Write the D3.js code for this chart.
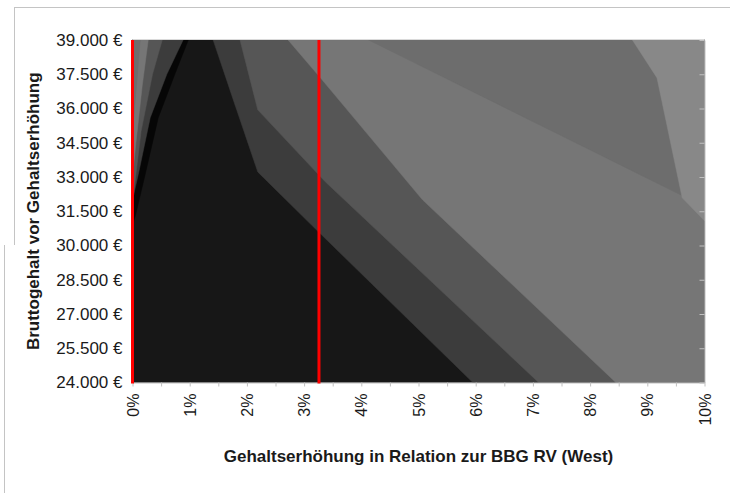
<!DOCTYPE html>
<html>
<head>
<meta charset="utf-8">
<script src="https://cdn.jsdelivr.net/npm/d3@7"></script>
<style>
  body { margin: 0; background: #fff; }
  text { font-family: "Liberation Sans", Arial, sans-serif; fill: #1a1a1a; }
</style>
</head>
<body>
<div id="chart"></div>
<script>
// axis values
const raiseTicks = [0, 1, 2, 3, 4, 5, 6, 7, 8, 9, 10];          // % of BBG RV (West)
const salaryTicks = [24000, 25500, 27000, 28500, 30000, 31500, 33000, 34500, 36000, 37500, 39000];
const markerLines = [0, 3.26];                                   // red reference lines, %

// contour band boundaries, points as [raise %, salary €]
const b1 = [[1.41, 39000], [1.8, 36100], [2.19, 33220], [3.25, 30600], [5.95, 24000]];
const b2 = [[1.88, 39000], [2.19, 35940], [3.37, 32790], [7.1, 24000]];
const b3 = [[2.72, 39000], [3.3, 37300], [5.07, 32000], [8.45, 24000]];
const b4 = [[4.13, 39000], [4.94, 37990], [9.3, 32570], [10, 31700]];
const b5 = [[8.74, 39000], [9.17, 37340], [9.61, 32090], [10, 31080]];
// the thin bands near 0 %
const peakLeft = [[0.975, 39000], [0.74, 37500], [0.45, 35600], [0.22, 33100], [0.05, 31300], [0, 30900]];
const stripLeft = [[0.885, 39000], [0.6, 37500], [0.31, 35600], [0.1, 33100], [0, 32000]];
const l2 = [[0.52, 39000], [0.35, 37500], [0.15, 35000], [0.03, 32500], [0, 31700]];
const l3 = [[0.275, 39000], [0.17, 37000], [0.06, 34500], [0, 33000]];
const l4 = [[0.135, 39000], [0.07, 37000], [0, 35000]];

const shade = {
  S: "#060606", K: "#171717", G1: "#3c3c3c", G2: "#565656",
  G3: "#767676", G4: "#6d6d6d", G5: "#888888"
};

const width = 730, height = 493;
const margin = { top: 40, right: 25.5, bottom: 110.5, left: 132.5 };

const svg = d3.select("#chart").append("svg")
  .attr("width", width)
  .attr("height", height);

// outer frame of the picture
svg.append("path")
  .attr("d", "M14,7.5H730M14.5,7V245M4.5,245V493")
  .attr("fill", "none")
  .attr("stroke", "#c4c4c4");

const x = d3.scaleLinear().domain([0, 10]).range([margin.left, width - margin.right]);
const y = d3.scaleLinear().domain([24000, 39000]).range([height - margin.bottom, margin.top]);

const [x0, x1] = x.domain();
const [y0, y1] = y.domain();

const line = d3.line().x(d => x(d[0])).y(d => y(d[1]));

// bands, painted from lowest to highest (right side), then the corner near 0 %
const bands = [
  { pts: [[x0, y1], [x1, y1], [x1, y0], [x0, y0]], c: shade.K },
  { pts: b1.concat([[x1, y0], [x1, y1]]), c: shade.G1 },
  { pts: b2.concat([[x1, y0], [x1, y1]]), c: shade.G2 },
  { pts: b3.concat([[x1, y0], [x1, y1]]), c: shade.G3 },
  { pts: b4.concat([[x1, y1]]), c: shade.G4 },
  { pts: b5.concat([[x1, y1]]), c: shade.G5 },
  { pts: peakLeft.concat([[x0, y1]]), c: shade.S },
  { pts: stripLeft.concat([[x0, y1]]), c: shade.G1 },
  { pts: l2.concat([[x0, y1]]), c: shade.G2 },
  { pts: l3.concat([[x0, y1]]), c: shade.G3 },
  { pts: l4.concat([[x0, y1]]), c: shade.G4 }
];

const plot = svg.append("g");

plot.selectAll("path.band")
  .data(bands)
  .join("path")
  .attr("class", "band")
  .attr("d", d => line(d.pts) + "Z")
  .attr("fill", d => d.c)
  .attr("stroke", d => d.c)
  .attr("stroke-width", 0.5);

// top edge of the plot
svg.append("line")
  .attr("x1", x(x0)).attr("x2", x(x1))
  .attr("y1", y(y1) - 0.5).attr("y2", y(y1) - 0.5)
  .attr("stroke", "#dadada");

// x axis
const xAxis = svg.append("g")
  .attr("transform", `translate(0,${y(y0)})`)
  .call(d3.axisBottom(x)
    .tickValues(d3.range(0, 10.5, 0.5))
    .tickSize(4)
    .tickSizeOuter(0)
    .tickFormat(d => raiseTicks.includes(d) ? d + "%" : ""));
xAxis.select(".domain").attr("stroke", "#c0c0c0");
xAxis.selectAll(".tick line").attr("stroke", "#c0c0c0");
xAxis.selectAll(".tick text")
  .attr("transform", "rotate(-90)")
  .attr("x", -11)
  .attr("y", 0)
  .attr("dy", "0.35em")
  .style("text-anchor", "end")
  .style("font-size", "16px")
  .attr("fill", "#1a1a1a");

// y axis labels on the left
const de = d3.formatLocale({ decimal: ",", thousands: ".", grouping: [3], currency: ["", " €"] });
const yAxis = svg.append("g")
  .attr("transform", `translate(${x(x0)},0)`)
  .call(d3.axisLeft(y)
    .tickValues(salaryTicks)
    .tickSize(0)
    .tickPadding(10)
    .tickFormat(de.format("$,")));
yAxis.select(".domain").remove();
yAxis.selectAll(".tick text")
  .style("font-size", "17px")
  .attr("fill", "#1a1a1a");

// right edge with inward ticks
const yRight = svg.append("g")
  .attr("transform", `translate(${x(x1)},0)`)
  .call(d3.axisLeft(y)
    .tickValues(salaryTicks)
    .tickSize(5)
    .tickSizeOuter(0)
    .tickFormat(""));
yRight.select(".domain").attr("stroke", "#c0c0c0");
yRight.selectAll(".tick line").attr("stroke", "#c0c0c0");

// red marker lines
svg.selectAll("line.marker")
  .data(markerLines)
  .join("line")
  .attr("class", "marker")
  .attr("x1", d => x(d)).attr("x2", d => x(d))
  .attr("y1", y(y1)).attr("y2", y(y0) + 1)
  .attr("stroke", "#ff0000")
  .attr("stroke-width", 3);

// axis titles
svg.append("text")
  .attr("transform", `translate(33,${(y(y0) + y(y1)) / 2}) rotate(-90)`)
  .attr("dy", "0.35em")
  .attr("text-anchor", "middle")
  .style("font-size", "17px")
  .style("font-weight", "bold")
  .text("Bruttogehalt vor Gehaltserhöhung");

svg.append("text")
  .attr("x", (x(x0) + x(x1)) / 2)
  .attr("y", 462)
  .attr("text-anchor", "middle")
  .style("font-size", "17px")
  .style("font-weight", "bold")
  .text("Gehaltserhöhung in Relation zur BBG RV (West)");
</script>
</body>
</html>
